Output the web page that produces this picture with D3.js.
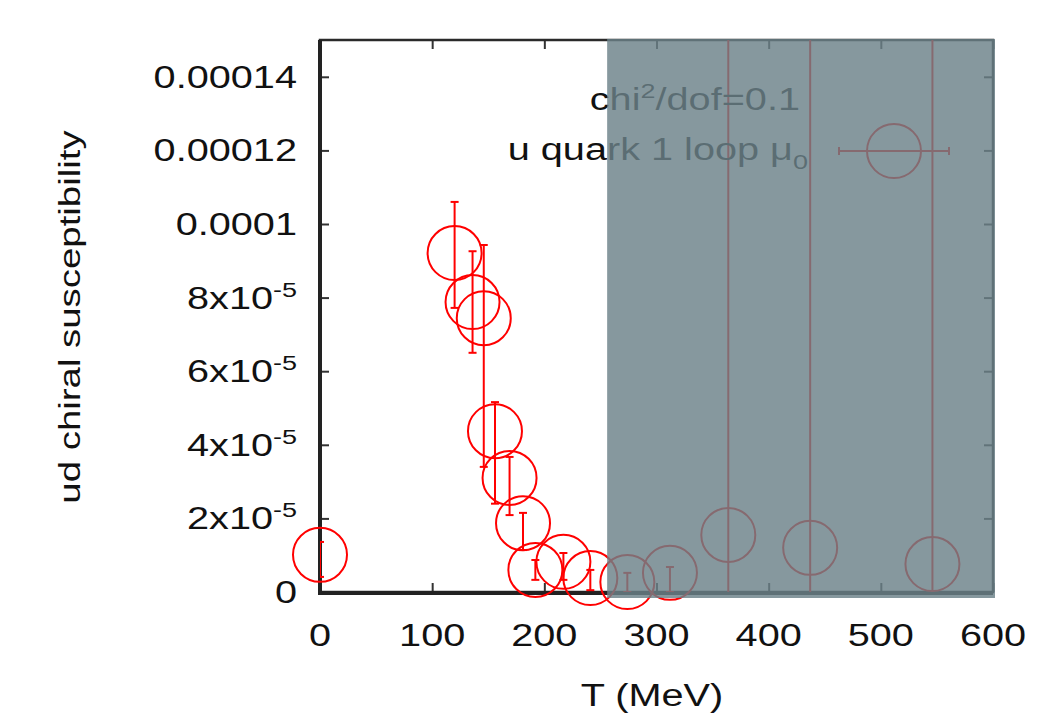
<!DOCTYPE html>
<html lang="en">
<head>
    <meta charset="UTF-8">
    <title>ud chiral susceptibility vs T</title>
    <script src="https://d3js.org/d3.v7.min.js"></script>
    <style>
        body { margin: 0; background: #fff; }
        svg text { font-family: "Liberation Sans", Arial, sans-serif; fill: #111; }
    </style>
</head>
<body>
    <svg id="chart"></svg>
    <script>
        // data
        const temps   = [0, 120, 136, 146, 156, 169, 181, 192, 217, 241, 274, 312, 364, 437, 546];
        const chi     = [1.01e-5, 9.21e-5, 7.88e-5, 7.44e-5, 4.37e-5, 3.10e-5, 1.87e-5, 0.60e-5, 0.82e-5, 0.38e-5, 0.27e-5, 0.52e-5, 1.55e-5, 1.20e-5, 0.76e-5];
        const chiLow  = [0.41e-5, 7.72e-5, 6.50e-5, 3.40e-5, 2.40e-5, 2.09e-5, 1.14e-5, 0.33e-5, 0.33e-5, 0.05e-5, 0.0, 0.0, -1e-4, -1e-4, -1e-4];
        const chiHigh = [1.36e-5, 10.6e-5, 9.26e-5, 9.43e-5, 5.16e-5, 3.67e-5, 2.15e-5, 0.87e-5, 1.06e-5, 0.60e-5, 0.52e-5, 0.68e-5, 1e-3, 1e-3, 1e-3];

        const xTicks = [0, 100, 200, 300, 400, 500, 600];
        const yTicks = [0, 2e-5, 4e-5, 6e-5, 8e-5, 1e-4, 1.2e-4, 1.4e-4];
        const yTickLabels = ["0", "2x10^-5", "4x10^-5", "6x10^-5", "8x10^-5", "0.0001", "0.00012", "0.00014"];
        const shadeFrom = 256;   // MeV, start of the grey band
        const legendTitle = "chi^2/dof=0.1";
        const seriesName = "u quark 1 loop \u03bc_0";

        const width = 1051, height = 714;
        const stretch = 1.28;   // the original font is drawn wide
        const svg = d3.select("#chart").attr("width", width).attr("height", height);

        const x = d3.scaleLinear().domain([0, 600]).range([320, 993]);
        const y = d3.scaleLinear().domain([0, 1.5e-4]).range([592, 40]);
        const [x0, x1] = x.range(), [y0, y1] = y.range();

        // text with ^sup and _sub parts, stretched horizontally
        function label(parent, px, py, str, anchor, size, rotate) {
            const g = parent.append("g")
                .attr("transform", `translate(${px},${py})${rotate ? " rotate(" + rotate + ")" : ""} scale(${stretch},1)`);
            const t = g.append("text").attr("text-anchor", anchor).attr("font-size", size);
            const parts = str.split(/([\^_]-?\w)/).filter(s => s.length);
            let shift = 0;
            parts.forEach(p => {
                if (p[0] === "^" || p[0] === "_") {
                    const up = p[0] === "^" ? -12 : 9;
                    t.append("tspan").attr("font-size", size * 0.68).attr("dy", up - shift).text(p.slice(1));
                    shift = up;
                } else {
                    t.append("tspan").attr("dy", -shift).text(p);
                    shift = 0;
                }
            });
            return g;
        }

        svg.append("clipPath").attr("id", "plot-clip")
            .append("rect").attr("x", x0).attr("y", y1).attr("width", x1 - x0).attr("height", y0 - y1);

        // ticks on all four sides, pointing inwards
        svg.append("g").attr("transform", `translate(0,${y0})`)
            .call(d3.axisBottom(x).tickValues(xTicks).tickSize(-9).tickFormat(""));
        svg.append("g").attr("transform", `translate(0,${y1})`)
            .call(d3.axisTop(x).tickValues(xTicks).tickSize(-9).tickFormat(""));
        svg.append("g").attr("transform", `translate(${x0},0)`)
            .call(d3.axisLeft(y).tickValues(yTicks).tickSize(-9).tickFormat(""));
        svg.append("g").attr("transform", `translate(${x1},0)`)
            .call(d3.axisRight(y).tickValues(yTicks).tickSize(-9).tickFormat(""));
        svg.selectAll(".domain").remove();
        svg.selectAll(".tick line").attr("stroke", "#333").attr("stroke-width", 2);

        // frame
        svg.append("rect").attr("x", x0).attr("y", y1).attr("width", x1 - x0).attr("height", y0 - y1)
            .attr("fill", "none").attr("stroke", "#2a2a2a").attr("stroke-width", 2.5);
        svg.append("path").attr("d", `M${x0},${y1}V${y0 + 1}H${x1}`)
            .attr("fill", "none").attr("stroke", "#222").attr("stroke-width", 4);

        // tick labels
        xTicks.forEach(v => label(svg, x(v), 646, String(v), "middle", 31));
        yTicks.forEach((v, i) => label(svg, 297, y(v) + 11, yTickLabels[i], "end", 31));

        label(svg, 652, 706, "T (MeV)", "middle", 31);
        label(svg, 80, 317, "ud chiral susceptibility", "middle", 30, -90);

        // data: circles with error bars
        const pts = temps.map((t, i) => ({ t, v: chi[i], lo: chiLow[i], hi: chiHigh[i] }));
        const dataG = svg.append("g").attr("clip-path", "url(#plot-clip)");
        const pointsG = svg.append("g");
        dataG.selectAll("line.err").data(pts).join("line").attr("class", "err")
            .attr("x1", d => x(d.t)).attr("x2", d => x(d.t))
            .attr("y1", d => y(d.lo)).attr("y2", d => y(d.hi))
            .attr("stroke", "red").attr("stroke-width", 2);
        ["lo", "hi"].forEach(k => {
            dataG.selectAll("line.cap-" + k).data(pts).join("line").attr("class", "cap-" + k)
                .attr("x1", d => x(d.t) - 4).attr("x2", d => x(d.t) + 4)
                .attr("y1", d => y(d[k])).attr("y2", d => y(d[k]))
                .attr("stroke", "red").attr("stroke-width", 2);
        });
        pointsG.selectAll("circle").data(pts).join("circle")
            .attr("cx", d => x(d.t)).attr("cy", d => y(d.v)).attr("r", 27)
            .attr("fill", "none").attr("stroke", "red").attr("stroke-width", 2);

        // legend
        label(svg, 800, 110, legendTitle, "end", 31);
        label(svg, 808, 160, seriesName, "end", 31);
        const lg = svg.append("g");
        lg.append("line").attr("x1", 839).attr("x2", 949).attr("y1", 151).attr("y2", 151)
            .attr("stroke", "red").attr("stroke-width", 2);
        [839, 949].forEach(cx => lg.append("line").attr("x1", cx).attr("x2", cx).attr("y1", 147).attr("y2", 155)
            .attr("stroke", "red").attr("stroke-width", 2));
        lg.append("circle").attr("cx", 894).attr("cy", 151).attr("r", 27)
            .attr("fill", "none").attr("stroke", "red").attr("stroke-width", 2);

        // grey band over the high-T region
        svg.append("rect")
            .attr("x", x(shadeFrom)).attr("y", y1 - 1)
            .attr("width", x1 + 2 - x(shadeFrom)).attr("height", y0 - y1 + 7)
            .attr("fill", "rgb(107,129,137)").attr("fill-opacity", 0.82);
    </script>
</body>
</html>
